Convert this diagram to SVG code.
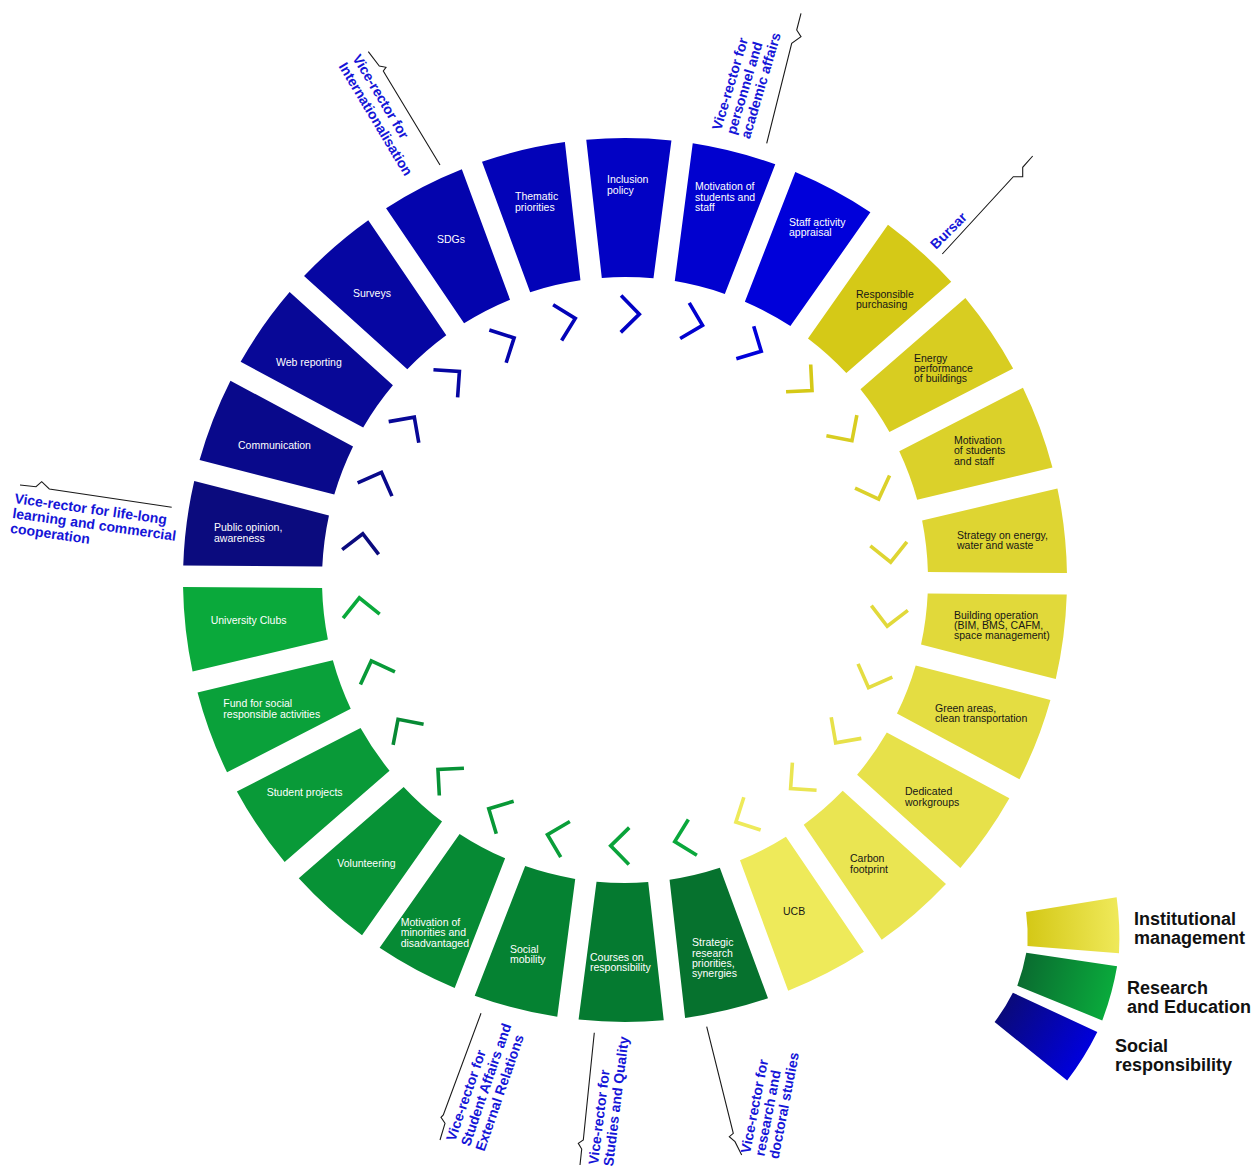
<svg xmlns="http://www.w3.org/2000/svg" width="1254" height="1167" viewBox="0 0 1254 1167">
<style>
text{font-family:"Liberation Sans",Arial,Helvetica,sans-serif}
.w{font-size:10.5px;fill:#ffffff}
.k{font-size:10.5px;fill:#161616}
.lab{font-size:14px;font-weight:bold;fill:#1515d8}
.leg{font-size:18px;font-weight:bold;fill:#111111}
.ldr{fill:none;stroke:#1a1a1a;stroke-width:1.1}
.chev{fill:none;stroke-width:3.6}
</style>
<defs>
<path id="seg" d="M301.90,-25.83 L439.95,-42.59 A442,442 0 0 1 439.95,42.59 L301.90,25.83 A303,303 0 0 0 301.90,-25.83 Z"/>
<polyline id="chev" points="247.6,-6.4 266,12 284.4,-6.4"/>
<linearGradient id="gy" x1="0" y1="0" x2="1" y2="0"><stop offset="0" stop-color="#d4c816"/><stop offset="1" stop-color="#efe95a"/></linearGradient>
<linearGradient id="gg" x1="0" y1="0" x2="1" y2="0"><stop offset="0" stop-color="#0a6c30"/><stop offset="1" stop-color="#0aaa3c"/></linearGradient>
<linearGradient id="gb" x1="0" y1="0" x2="1" y2="0"><stop offset="0" stop-color="#0a0a7a"/><stop offset="1" stop-color="#0000dc"/></linearGradient>
</defs>
<rect width="1254" height="1167" fill="#ffffff"/>

<!-- Social responsibility (blue) -->
<g id="seg-public-opinion"><use href="#seg" transform="translate(625 580) rotate(187.423)" fill="#0b0b7e"/><text class="w"><tspan x="214" y="531">Public opinion,</tspan><tspan x="214" y="541.5">awareness</tspan></text></g>
<g id="seg-communication"><use href="#seg" transform="translate(625 580) rotate(201.269)" fill="#09098b"/><text class="w" x="238" y="449">Communication</text></g>
<g id="seg-web-reporting"><use href="#seg" transform="translate(625 580) rotate(215.115)" fill="#080897"/><text class="w" x="276" y="366">Web reporting</text></g>
<g id="seg-surveys"><use href="#seg" transform="translate(625 580) rotate(228.962)" fill="#0606a2"/><text class="w" x="353" y="297">Surveys</text></g>
<g id="seg-sdgs"><use href="#seg" transform="translate(625 580) rotate(242.808)" fill="#0404ad"/><text class="w" x="437" y="243">SDGs</text></g>
<g id="seg-thematic-priorities"><use href="#seg" transform="translate(625 580) rotate(256.654)" fill="#0303b8"/><text class="w"><tspan x="515" y="200">Thematic</tspan><tspan x="515" y="210.5">priorities</tspan></text></g>
<g id="seg-inclusion-policy"><use href="#seg" transform="translate(625 580) rotate(-89.5)" fill="#0202c4"/><text class="w"><tspan x="607" y="183">Inclusion</tspan><tspan x="607" y="193.5">policy</tspan></text></g>
<g id="seg-motivation-blue"><use href="#seg" transform="translate(625 580) rotate(-75.654)" fill="#0101cf"/><text class="w"><tspan x="695" y="190">Motivation of</tspan><tspan x="695" y="200.5">students and</tspan><tspan x="695" y="211">staff</tspan></text></g>
<g id="seg-staff-appraisal"><use href="#seg" transform="translate(625 580) rotate(-61.808)" fill="#0000da"/><text class="w"><tspan x="789" y="225.5">Staff activity</tspan><tspan x="789" y="236">appraisal</tspan></text></g>

<!-- Institutional management (yellow) -->
<g id="seg-responsible-purchasing"><use href="#seg" transform="translate(625 580) rotate(-47.962)" fill="#d5c917"/><text class="k"><tspan x="856" y="297.5">Responsible</tspan><tspan x="856" y="308">purchasing</tspan></text></g>
<g id="seg-energy-performance"><use href="#seg" transform="translate(625 580) rotate(-34.115)" fill="#d8cd21"/><text class="k"><tspan x="914" y="361.7">Energy</tspan><tspan x="914" y="372">performance</tspan><tspan x="914" y="382.3">of buildings</tspan></text></g>
<g id="seg-motivation-yellow"><use href="#seg" transform="translate(625 580) rotate(-20.269)" fill="#dbd12a"/><text class="k"><tspan x="954" y="444">Motivation</tspan><tspan x="954" y="454.3">of students</tspan><tspan x="954" y="464.6">and staff</tspan></text></g>
<g id="seg-strategy-energy"><use href="#seg" transform="translate(625 580) rotate(-6.423)" fill="#ded532"/><text class="k"><tspan x="957" y="539">Strategy on energy,</tspan><tspan x="957" y="549.3">water and waste</tspan></text></g>
<g id="seg-building-operation"><use href="#seg" transform="translate(625 580) rotate(7.423)" fill="#e1d93a"/><text class="k"><tspan x="954" y="618.7">Building operation</tspan><tspan x="954" y="629">(BIM, BMS, CAFM,</tspan><tspan x="954" y="639.3">space management)</tspan></text></g>
<g id="seg-green-areas"><use href="#seg" transform="translate(625 580) rotate(21.269)" fill="#e4dd42"/><text class="k"><tspan x="935" y="711.5">Green areas,</tspan><tspan x="935" y="722">clean transportation</tspan></text></g>
<g id="seg-dedicated-workgroups"><use href="#seg" transform="translate(625 580) rotate(35.115)" fill="#e7e14a"/><text class="k"><tspan x="905" y="795">Dedicated</tspan><tspan x="905" y="805.5">workgroups</tspan></text></g>
<g id="seg-carbon-footprint"><use href="#seg" transform="translate(625 580) rotate(48.962)" fill="#eae552"/><text class="k"><tspan x="850" y="862">Carbon</tspan><tspan x="850" y="872.5">footprint</tspan></text></g>
<g id="seg-ucb"><use href="#seg" transform="translate(625 580) rotate(62.808)" fill="#eeea5a"/><text class="k" x="783" y="914.5">UCB</text></g>

<!-- Research and Education (green) -->
<g id="seg-strategic-research"><use href="#seg" transform="translate(625 580) rotate(76.654)" fill="#06722e"/><text class="w"><tspan x="692" y="946.3">Strategic</tspan><tspan x="692" y="956.6">research</tspan><tspan x="692" y="966.9">priorities,</tspan><tspan x="692" y="977.2">synergies</tspan></text></g>
<g id="seg-courses"><use href="#seg" transform="translate(625 580) rotate(90.5)" fill="#057a30"/><text class="w"><tspan x="590" y="961">Courses on</tspan><tspan x="590" y="971.3">responsibility</tspan></text></g>
<g id="seg-social-mobility"><use href="#seg" transform="translate(625 580) rotate(104.346)" fill="#058232"/><text class="w"><tspan x="510" y="952.7">Social</tspan><tspan x="510" y="963">mobility</tspan></text></g>
<g id="seg-motivation-minorities"><use href="#seg" transform="translate(625 580) rotate(118.192)" fill="#068a34"/><text class="w"><tspan x="400.7" y="925.7">Motivation of</tspan><tspan x="400.7" y="936.2">minorities and</tspan><tspan x="400.7" y="946.7">disadvantaged</tspan></text></g>
<g id="seg-volunteering"><use href="#seg" transform="translate(625 580) rotate(132.038)" fill="#079236"/><text class="w" x="337.3" y="866.7">Volunteering</text></g>
<g id="seg-student-projects"><use href="#seg" transform="translate(625 580) rotate(145.885)" fill="#099a38"/><text class="w" x="266.7" y="795.7">Student projects</text></g>
<g id="seg-fund-social"><use href="#seg" transform="translate(625 580) rotate(159.731)" fill="#0aa13a"/><text class="w"><tspan x="223.3" y="707.3">Fund for social</tspan><tspan x="223.3" y="717.7">responsible activities</tspan></text></g>
<g id="seg-university-clubs"><use href="#seg" transform="translate(625 580) rotate(173.577)" fill="#0aa93b"/><text class="w" x="210.7" y="623.5">University Clubs</text></g>

<g id="connectors">
<g id="chevrons">
<use href="#chev" class="chev" stroke="#0202c4" transform="translate(625 580) rotate(-89.5)"/>
<use href="#chev" class="chev" stroke="#0101cf" transform="translate(625 580) rotate(-75.654)"/>
<use href="#chev" class="chev" stroke="#0000da" transform="translate(625 580) rotate(-61.808)"/>
<use href="#chev" class="chev" stroke="#d5c917" transform="translate(625 580) rotate(-47.962)"/>
<use href="#chev" class="chev" stroke="#d8cd21" transform="translate(625 580) rotate(-34.115)"/>
<use href="#chev" class="chev" stroke="#dbd12a" transform="translate(625 580) rotate(-20.269)"/>
<use href="#chev" class="chev" stroke="#ded532" transform="translate(625 580) rotate(-6.423)"/>
<use href="#chev" class="chev" stroke="#e1d93a" transform="translate(625 580) rotate(7.423)"/>
<use href="#chev" class="chev" stroke="#e4dd42" transform="translate(625 580) rotate(21.269)"/>
<use href="#chev" class="chev" stroke="#e7e14a" transform="translate(625 580) rotate(35.115)"/>
<use href="#chev" class="chev" stroke="#eae552" transform="translate(625 580) rotate(48.962)"/>
<use href="#chev" class="chev" stroke="#eeea5a" transform="translate(625 580) rotate(62.808)"/>
<use href="#chev" class="chev" stroke="#0aa83c" transform="translate(625 580) rotate(76.654)"/>
<use href="#chev" class="chev" stroke="#0aa33a" transform="translate(625 580) rotate(90.5)"/>
<use href="#chev" class="chev" stroke="#0a9e39" transform="translate(625 580) rotate(104.346)"/>
<use href="#chev" class="chev" stroke="#089836" transform="translate(625 580) rotate(118.192)"/>
<use href="#chev" class="chev" stroke="#079236" transform="translate(625 580) rotate(132.038)"/>
<use href="#chev" class="chev" stroke="#078a34" transform="translate(625 580) rotate(145.885)"/>
<use href="#chev" class="chev" stroke="#089a38" transform="translate(625 580) rotate(159.731)"/>
<use href="#chev" class="chev" stroke="#0aa93b" transform="translate(625 580) rotate(173.577)"/>
<use href="#chev" class="chev" stroke="#0b0b7e" transform="translate(625 580) rotate(187.423)"/>
<use href="#chev" class="chev" stroke="#09098b" transform="translate(625 580) rotate(201.269)"/>
<use href="#chev" class="chev" stroke="#080897" transform="translate(625 580) rotate(215.115)"/>
<use href="#chev" class="chev" stroke="#0606a2" transform="translate(625 580) rotate(228.962)"/>
<use href="#chev" class="chev" stroke="#0404ad" transform="translate(625 580) rotate(242.808)"/>
<use href="#chev" class="chev" stroke="#0303b8" transform="translate(625 580) rotate(256.654)"/>
</g>
<g id="leaders">
<path class="ldr" d="M368.3,51.7 L379.3,66 L386,67.3 L383.3,71 L386.7,76.7 L440,165"/>
<path class="ldr" d="M801,13.3 L796.7,30 L801,36.7 L791.7,43.3 L766.7,143.3"/>
<path class="ldr" d="M942.3,254 L1013.3,176.7 L1022.7,176.7 L1022.7,167.3 L1032.7,156"/>
<path class="ldr" d="M20,485 L36,486.7 L41.7,481.7 L49.3,489 L171.7,507.3"/>
<path class="ldr" d="M481,1013.3 L443.3,1115 L441,1117.3 L445,1123.3 L440,1140"/>
<path class="ldr" d="M594.3,1032.7 L583.3,1140 L578.3,1143.3 L581.7,1149 L580,1165"/>
<path class="ldr" d="M706.7,1026.7 L733.3,1133.3 L729.3,1136.7 L735,1141.7 L741.7,1155"/>
</g>
</g>

<g id="label-internationalisation"><text class="lab" transform="translate(352 58) rotate(59)"><tspan x="0" y="0">Vice-rector for</tspan><tspan x="0" y="16">Internationalisation</tspan></text></g>
<g id="label-personnel"><text class="lab" transform="translate(721 131) rotate(-73.5)"><tspan x="0" y="0">Vice-rector for</tspan><tspan x="0" y="15">personnel and</tspan><tspan x="0" y="30">academic affairs</tspan></text></g>
<g id="label-bursar"><text class="lab" transform="translate(936 250) rotate(-45)">Bursar</text></g>
<g id="label-lifelong"><text class="lab" transform="translate(14 503) rotate(8)"><tspan x="0" y="0">Vice-rector for life-long</tspan><tspan x="0" y="15">learning and commercial</tspan><tspan x="0" y="30">cooperation</tspan></text></g>
<g id="label-student-affairs"><text class="lab" transform="translate(455 1142) rotate(-71)"><tspan x="0" y="0">Vice-rector for</tspan><tspan x="0" y="15.5">Student Affairs and</tspan><tspan x="0" y="31">External Relations</tspan></text></g>
<g id="label-studies-quality"><text class="lab" transform="translate(598 1165) rotate(-83)"><tspan x="0" y="0">Vice-rector for</tspan><tspan x="0" y="15">Studies and Quality</tspan></text></g>
<g id="label-research"><text class="lab" transform="translate(750 1154) rotate(-79)"><tspan x="0" y="0">Vice-rector for</tspan><tspan x="0" y="14.5">research and</tspan><tspan x="0" y="29">doctoral studies</tspan></text></g>

<g id="legend">
<g id="legend-institutional"><use href="#seg" fill="url(#gy)" transform="translate(827.7 937.4) rotate(-2.4) scale(0.66)"/><text class="leg"><tspan x="1134" y="925">Institutional</tspan><tspan x="1134" y="943.5">management</tspan></text></g>
<g id="legend-research"><use href="#seg" fill="url(#gg)" transform="translate(829.6 916.7) rotate(15.3) scale(0.66)"/><text class="leg"><tspan x="1127" y="994">Research</tspan><tspan x="1127" y="1012.5">and Education</tspan></text></g>
<g id="legend-social"><use href="#seg" fill="url(#gb)" transform="translate(832 900.5) rotate(31.9) scale(0.67)"/><text class="leg"><tspan x="1115" y="1052.3">Social</tspan><tspan x="1115" y="1070.8">responsibility</tspan></text></g>
</g>
</svg>
